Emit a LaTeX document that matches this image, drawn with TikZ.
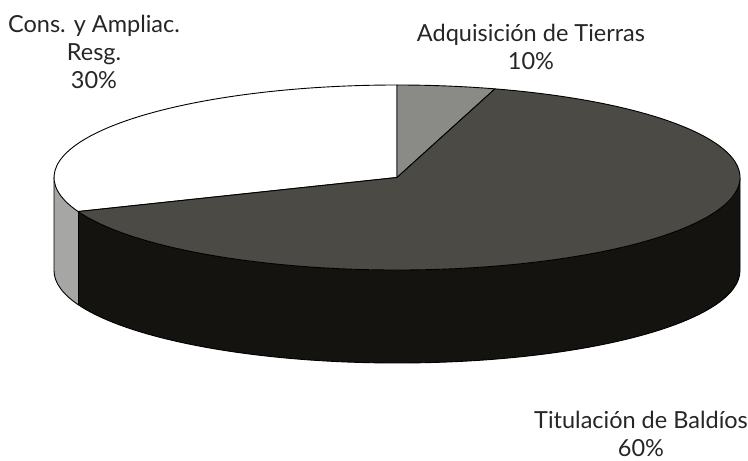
\documentclass[tikz,border=0pt]{standalone}
\usepackage{fontspec}
\setmainfont{Lato}
\usepackage{tikz}
\definecolor{pietop}{HTML}{4B4A44}
\definecolor{pieside}{HTML}{151310}
\definecolor{piegray}{HTML}{8A8A86}
\definecolor{pielight}{HTML}{A6A7A4}
\tikzset{
  slice/.style={draw=black, line width=0.9pt, line join=round},
  lbl/.style={align=center, font=\fontsize{23.5}{28}\selectfont, text=black!85}
}
\begin{document}
\begin{tikzpicture}[x=1pt,y=1pt]
\useasboundingbox (0,0) rectangle (748,461);
\coordinate (c) at (397,283.5);
\coordinate (cb) at (397,190.5);
% sides
\fill[pielight] ([shift={(c)}]180:343 and 92.5) arc[start angle=180,end angle=201.6,x radius=343,y radius=92.5]
 -- ([shift={(cb)}]201.6:343 and 92.5) arc[start angle=201.6,end angle=180,x radius=343,y radius=92.5] -- cycle;
\fill[pieside] ([shift={(c)}]201.6:343 and 92.5) arc[start angle=201.6,end angle=360,x radius=343,y radius=92.5]
 -- ([shift={(cb)}]360:343 and 92.5) arc[start angle=360,end angle=201.6,x radius=343,y radius=92.5] -- cycle;
\draw[slice] ([shift={(c)}]180:343 and 92.5) -- ([shift={(cb)}]180:343 and 92.5)
 arc[start angle=180,end angle=360,x radius=343,y radius=92.5] -- ([shift={(c)}]0:343 and 92.5);
\draw[line width=0.5pt] ([shift={(c)}]201.6:343 and 92.5) -- ([shift={(cb)}]201.6:343 and 92.5);
% top
\filldraw[slice, fill=white] (c) -- ([shift={(c)}]90:343 and 92.5)
 arc[start angle=90,end angle=201.6,x radius=343,y radius=92.5] -- cycle;
\filldraw[slice, fill=piegray] (c) -- ([shift={(c)}]73.4:343 and 92.5)
 arc[start angle=73.4,end angle=90,x radius=343,y radius=92.5] -- cycle;
\filldraw[slice, fill=pietop] (c) -- ([shift={(c)}]201.6:343 and 92.5)
 arc[start angle=201.6,end angle=433.4,x radius=343,y radius=92.5] -- cycle;
% labels
\node[lbl] (cons) at (94,409) {Cons. y Ampliac.\\Resg.\\30\%};
\node[lbl] (adq) at (531,414) {Adquisición de Tierras\\10\%};
\node[lbl] (tit) at (641,27) {Titulación de Baldíos\\60\%};
\end{tikzpicture}
\end{document}
